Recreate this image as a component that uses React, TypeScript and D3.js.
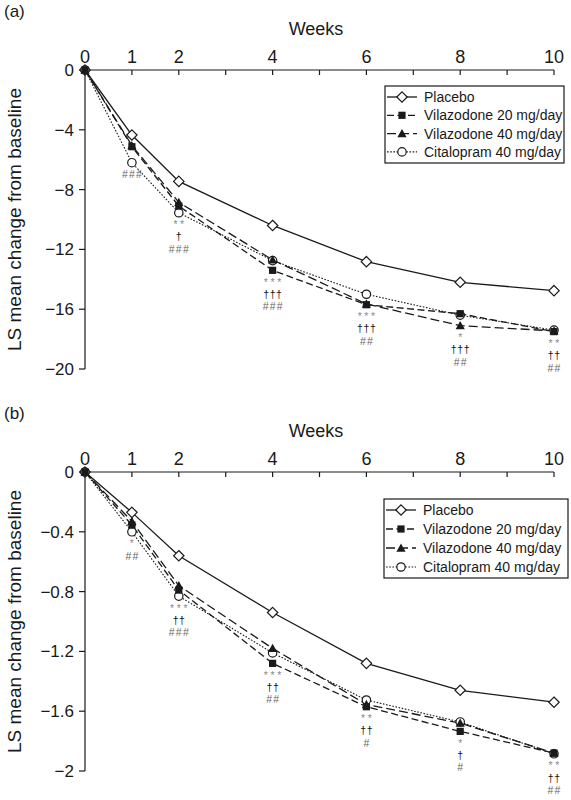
import React from "react";
import * as d3 from "d3";

const weeks = [0, 1, 2, 4, 6, 8, 10];
const xTickLabels = [0, 1, 2, 4, 6, 8, 10];
const xTickMarks = [0, 1, 2, 3, 4, 5, 6, 7, 8, 9, 10];

const seriesNames = ["Placebo", "Vilazodone 20 mg/day", "Vilazodone 40 mg/day", "Citalopram 40 mg/day"];

// Panel (a)
const placeboA = [0, -4.35, -7.45, -10.4, -12.82, -14.2, -14.76];
const vil20A = [0, -5.13, -9.1, -13.4, -15.7, -16.3, -17.5];
const vil40A = [0, -5.05, -8.85, -12.7, -15.65, -17.1, -17.45];
const citA = [0, -6.2, -9.55, -12.75, -15.0, -16.4, -17.4];
const yTicksA = [0, -4, -8, -12, -16, -20];
const starsA = ["", "", "**", "***", "***", "*", "**"];
const daggersA = ["", "", "\u2020", "\u2020\u2020\u2020", "\u2020\u2020\u2020", "\u2020\u2020\u2020", "\u2020\u2020"];
const hashesA = ["", "###", "###", "###", "##", "##", "##"];

// Panel (b)
const placeboB = [0, -0.27, -0.56, -0.94, -1.28, -1.46, -1.54];
const vil20B = [0, -0.355, -0.79, -1.28, -1.57, -1.735, -1.88];
const vil40B = [0, -0.33, -0.76, -1.18, -1.555, -1.68, -1.88];
const citB = [0, -0.4, -0.83, -1.21, -1.525, -1.672, -1.885];
const yTicksB = [0, -0.4, -0.8, -1.2, -1.6, -2];
const starsB = ["", "*", "***", "***", "**", "*", "**"];
const daggersB = ["", "", "\u2020\u2020", "\u2020\u2020", "\u2020\u2020", "\u2020", "\u2020\u2020"];
const hashesB = ["", "##", "###", "##", "#", "#", "##"];

const FONT = "'Liberation Sans', Arial, Helvetica, sans-serif";
const INK = "#1a1a1a";

type Panel = {
  label: string;
  top: number;
  bottom: number;
  yMin: number;
  yTicks: number[];
  series: number[][];
  stars: string[];
  daggers: string[];
  hashes: string[];
  legend: { x: number; y: number; w: number; h: number; row: number };
};

const panels: Panel[] = [
  {
    label: "(a)",
    top: 70,
    bottom: 369,
    yMin: -20,
    yTicks: yTicksA,
    series: [placeboA, vil20A, vil40A, citA],
    stars: starsA,
    daggers: daggersA,
    hashes: hashesA,
    legend: { x: 385, y: 86, w: 179, h: 77, row: 18.3 },
  },
  {
    label: "(b)",
    top: 472,
    bottom: 771,
    yMin: -2,
    yTicks: yTicksB,
    series: [placeboB, vil20B, vil40B, citB],
    stars: starsB,
    daggers: daggersB,
    hashes: hashesB,
    legend: { x: 384, y: 499, w: 184, h: 79, row: 19 },
  },
];

const styles = [
  { dash: "none", width: 1.3 },
  { dash: "7,3.5", width: 1.3 },
  { dash: "9,4", width: 1.3 },
  { dash: "1.6,1.6", width: 1.1 },
];

const x = d3.scaleLinear().domain([0, 10]).range([85, 554]);

function Marker({ kind, cx, cy }: { kind: number; cx: number; cy: number }) {
  if (kind === 0) {
    const s = 5.2;
    return (
      <path
        d={`M${cx},${cy - s}L${cx + s},${cy}L${cx},${cy + s}L${cx - s},${cy}Z`}
        fill="white"
        stroke={INK}
        strokeWidth={1.2}
      />
    );
  }
  if (kind === 1) {
    return <rect x={cx - 3.6} y={cy - 3.6} width={7.2} height={7.2} fill={INK} />;
  }
  if (kind === 2) {
    const s = 4.6;
    return <path d={`M${cx},${cy - s}L${cx + s},${cy + s * 0.8}L${cx - s},${cy + s * 0.8}Z`} fill={INK} />;
  }
  return <circle cx={cx} cy={cy} r={4.2} fill="white" stroke={INK} strokeWidth={1.2} />;
}

function PanelView({ p }: { p: Panel }) {
  const y = d3.scaleLinear().domain([0, p.yMin]).range([p.top, p.bottom]);
  const line = d3
    .line<number>()
    .x((_, i) => x(weeks[i]))
    .y((d) => y(d));
  const drawOrder = [0, 3, 2, 1];
  const fmt = (v: number) => (v === 0 ? "0" : "\u2212" + String(Math.abs(v)));
  const lg = p.legend;
  return (
    <g>
      <text x={4} y={p.top - 53} fontSize={17} fontFamily={FONT} fill={INK}>
        {p.label}
      </text>
      <text x={316} y={p.top - 35} fontSize={18} fontFamily={FONT} fill={INK} textAnchor="middle">
        Weeks
      </text>
      {/* x axis at top */}
      <line x1={x(0)} x2={x(10)} y1={p.top} y2={p.top} stroke={INK} strokeWidth={1.2} />
      {xTickMarks.map((t) => (
        <line key={"xt" + t} x1={x(t)} x2={x(t)} y1={p.top} y2={p.top + 5} stroke={INK} strokeWidth={1.2} />
      ))}
      {xTickLabels.map((t) => (
        <text key={"xl" + t} x={x(t)} y={p.top - 7} fontSize={18} fontFamily={FONT} fill={INK} textAnchor="middle">
          {t}
        </text>
      ))}
      {/* y axis */}
      <line x1={x(0)} x2={x(0)} y1={p.top} y2={p.bottom} stroke={INK} strokeWidth={1.2} />
      {p.yTicks.map((t) => (
        <g key={"yt" + t}>
          <line x1={x(0) - 6} x2={x(0)} y1={y(t)} y2={y(t)} stroke={INK} strokeWidth={1.2} />
          <text x={74} y={y(t) + 6} fontSize={17} fontFamily={FONT} fill={INK} textAnchor="end">
            {fmt(t)}
          </text>
        </g>
      ))}
      <text
        transform={`translate(21,${(p.top + p.bottom) / 2}) rotate(-90)`}
        fontSize={19}
        fontFamily={FONT}
        fill={INK}
        textAnchor="middle"
      >
        LS mean change from baseline
      </text>
      {/* lines */}
      {drawOrder.map((k) => (
        <path
          key={"ln" + k}
          d={line(p.series[k]) || ""}
          fill="none"
          stroke={INK}
          strokeWidth={styles[k].width}
          strokeDasharray={styles[k].dash}
        />
      ))}
      {/* markers */}
      {drawOrder.map((k) =>
        p.series[k].map((v, i) => <Marker key={"mk" + k + "-" + i} kind={k} cx={x(weeks[i])} cy={y(v)} />)
      )}
      {/* significance annotations */}
      {weeks.map((w, i) => {
        const lowest = Math.max(...p.series.map((s) => y(s[i])));
        const rows: { txt: string; color: string; ls: number }[] = [];
        if (p.stars[i]) rows.push({ txt: p.stars[i], color: "#8c8c8c", ls: 2.6 });
        if (p.daggers[i]) rows.push({ txt: p.daggers[i], color: "#111", ls: 0.6 });
        if (p.hashes[i]) rows.push({ txt: p.hashes[i], color: "#666", ls: 1.2 });
        return rows.map((r, j) => (
          <text
            key={"an" + i + "-" + j}
            x={x(w) + r.ls / 2}
            y={lowest + 15.5 + j * 12.2}
            fontSize={10.5}
            fontFamily={FONT}
            fill={r.color}
            textAnchor="middle"
            letterSpacing={r.ls}
          >
            {r.txt}
          </text>
        ));
      })}
      {/* legend */}
      <rect x={lg.x} y={lg.y} width={lg.w} height={lg.h} fill="white" stroke={INK} strokeWidth={1.2} />
      {seriesNames.map((name, k) => {
        const cy = lg.y + 11 + k * lg.row;
        return (
          <g key={"lg" + k}>
            <line
              x1={lg.x + 2}
              x2={lg.x + 32}
              y1={cy}
              y2={cy}
              stroke={INK}
              strokeWidth={styles[k].width}
              strokeDasharray={styles[k].dash}
            />
            <Marker kind={k} cx={lg.x + 17} cy={cy} />
            <text x={lg.x + 39} y={cy + 5} fontSize={14} fontFamily={FONT} fill={INK}>
              {name}
            </text>
          </g>
        );
      })}
    </g>
  );
}

export default function App() {
  return (
    <svg
      width={571}
      height={800}
      viewBox="0 0 571 800"
      style={{ position: "absolute", left: 0, top: 0, background: "white" }}
    >
      <rect x={0} y={0} width={571} height={800} fill="white" />
      {panels.map((p) => (
        <PanelView key={p.label} p={p} />
      ))}
    </svg>
  );
}
